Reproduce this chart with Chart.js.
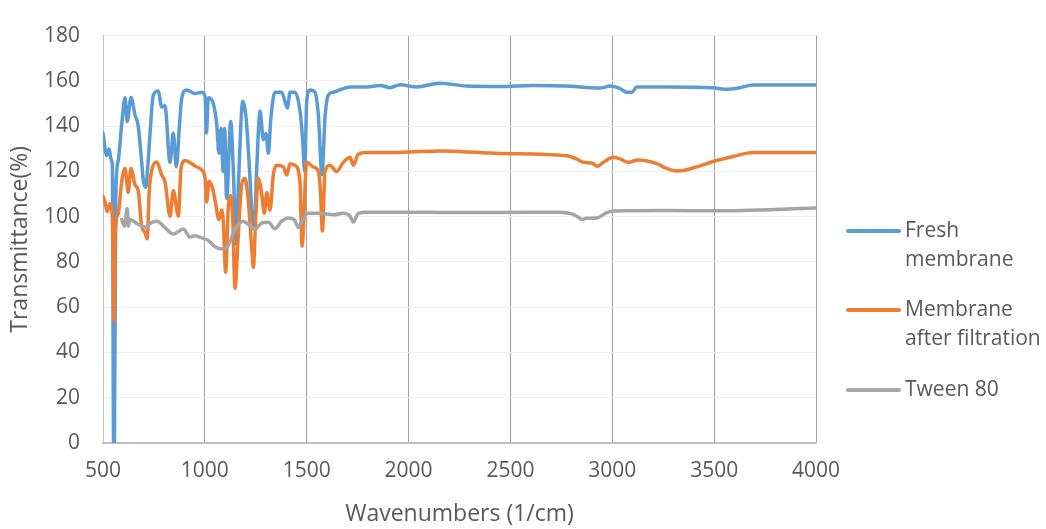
<!DOCTYPE html>
<html>
<head>
<meta charset="utf-8">
<script src="https://cdn.jsdelivr.net/npm/chart.js@4.4.1/dist/chart.umd.min.js"></script>
<style>
  html, body { margin: 0; padding: 0; background: #fff; }
  #wrap { width: 1046px; height: 529px; }
</style>
</head>
<body>
<div id="wrap"><canvas id="ftirChart" width="1046" height="529"></canvas></div>
<script>
// wavenumber ticks
const xTicks = [500, 1000, 1500, 2000, 2500, 3000, 3500, 4000];

// Fresh membrane
const freshWn = [500, 518, 530, 541, 546, 552, 556, 563, 575, 592, 608, 619, 637, 657, 673, 690, 698, 710, 719, 731, 747, 771, 788, 804, 829, 845, 860, 875, 886, 911, 952, 985, 1001, 1008, 1017, 1041, 1058, 1069, 1079, 1090, 1097, 1107, 1127, 1140, 1153, 1165, 1186, 1202, 1218, 1230, 1243, 1254, 1271, 1287, 1300, 1312, 1323, 1344, 1377, 1393, 1405, 1418, 1442, 1467, 1480, 1490, 1500, 1516, 1541, 1557, 1575, 1590, 1606, 1631, 1713, 1795, 1860, 1909, 1958, 2040, 2154, 2285, 2449, 2611, 2775, 2940, 2989, 3038, 3071, 3096, 3120, 3267, 3495, 3553, 3627, 3691, 4000];
const freshT = [137, 127, 130, 125, 122, 0, 0, 110, 125, 141, 152.5, 142, 152.6, 145, 140, 124, 116, 113, 121, 137, 153.7, 155.5, 148.5, 149, 124, 137, 122, 140, 152, 156, 154.4, 155, 153, 137, 152.5, 150, 141, 128, 139, 120, 139, 108, 142, 120, 88, 115, 151, 144, 122.7, 103, 96, 120, 146.7, 134, 136.8, 128, 142.4, 155, 155, 151, 148, 155, 155, 146.7, 134, 120, 151, 156, 155, 145, 118.6, 144, 153.7, 155, 157.3, 157.3, 158, 157, 158.3, 157.3, 159, 157.7, 157.5, 158, 157.7, 156.8, 157.7, 156.6, 155, 155, 157.3, 157.3, 157, 156.3, 157, 158.2, 158.2];

// Membrane after filtration
const filteredWn = [500, 510, 521, 534, 546, 554, 561, 575, 592, 608, 624, 637, 657, 673, 690, 706, 717, 727, 742, 764, 788, 804, 829, 845, 870, 883, 903, 925, 952, 985, 1001, 1009, 1020, 1037, 1053, 1069, 1083, 1091, 1102, 1115, 1127, 1137, 1148, 1164, 1181, 1197, 1213, 1230, 1238, 1250, 1262, 1279, 1292, 1304, 1320, 1336, 1353, 1385, 1402, 1418, 1442, 1467, 1477, 1500, 1532, 1557, 1567, 1577, 1590, 1614, 1647, 1680, 1713, 1729, 1753, 1795, 1893, 2007, 2154, 2449, 2776, 2825, 2858, 2899, 2927, 2956, 3005, 3038, 3079, 3104, 3128, 3218, 3267, 3316, 3349, 3415, 3512, 3594, 3693, 4000];
const filteredT = [109, 106.4, 102.2, 105.7, 100, 54, 95, 101.5, 115.6, 121.3, 110.7, 121.3, 114.2, 111.4, 95.8, 93, 90.2, 111.4, 121.3, 124.1, 118.4, 115.6, 100.2, 111.4, 100.2, 121.3, 124.8, 124, 122.4, 120.6, 117, 106.4, 115.6, 112.8, 105.7, 98.7, 102.9, 97, 75.4, 104.3, 109.3, 98.7, 68.3, 91.6, 114.2, 117, 107.2, 86, 77.5, 100, 117, 110, 101.5, 110.7, 102.9, 118.4, 122.7, 122, 118.4, 123.4, 122.7, 115.6, 87, 124, 122, 120, 112, 93.7, 120, 122.7, 120, 124, 126.2, 122.7, 127.6, 128.3, 128.3, 128.6, 129, 127.9, 126.9, 125.5, 124, 123.7, 122.3, 124, 126.2, 125.5, 124, 124.6, 125, 123.4, 121.3, 120.2, 120.4, 122, 124.8, 126.6, 128.3, 128.3];

// Tween 80
const tweenWn = [592, 605, 619, 624, 632, 673, 714, 725, 764, 804, 845, 894, 927, 952, 985, 1017, 1050, 1091, 1115, 1148, 1189, 1213, 1246, 1279, 1312, 1344, 1377, 1410, 1440, 1459, 1483, 1508, 1565, 1631, 1680, 1713, 1729, 1753, 1795, 2007, 2203, 2449, 2744, 2801, 2834, 2850, 2874, 2923, 2973, 3005, 3267, 3495, 4000];
const tweenT = [98.7, 95.8, 103.6, 95.8, 98.7, 96.6, 95.2, 96.6, 98, 95.2, 92.3, 94.5, 91, 91.6, 90.6, 89.5, 86.7, 85.7, 87.4, 94.5, 98, 96.6, 94.5, 97.2, 97.5, 94.7, 98, 99.4, 98.5, 95.2, 99.4, 101.5, 101.5, 100.8, 101.5, 100.2, 97.6, 101.5, 102, 102, 101.8, 101.8, 102, 101.2, 99.7, 98.7, 99.3, 99.4, 101.8, 102.5, 102.7, 102.6, 103.8];

const seriesNames = ["Fresh membrane", "Membrane after filtration", "Tween 80"];
const legendLines = [["Fresh", "membrane"], ["Membrane", "after filtration"], ["Tween 80"]];
const seriesColors = ["#5B9BD5", "#ED7D31", "#A5A5A5"];

const textColor = "#595959";
const fontFamily = "'Open Sans', 'Liberation Sans', sans-serif";

function toPoints(xs, ys) {
  return xs.map((x, i) => ({ x: x, y: ys[i] }));
}

// legend drawn at the right side, with wrapped labels
const sideLegend = {
  id: "sideLegend",
  afterDraw(chart) {
    const ctx = chart.ctx;
    const rowsY = [231, 310, 390];
    ctx.save();
    ctx.font = "21px " + fontFamily;
    ctx.textBaseline = "middle";
    ctx.textAlign = "left";
    legendLines.forEach((lines, i) => {
      const y = rowsY[i];
      ctx.strokeStyle = seriesColors[i];
      ctx.lineWidth = 4;
      ctx.lineCap = "round";
      ctx.beginPath();
      ctx.moveTo(848, y);
      ctx.lineTo(899, y);
      ctx.stroke();
      ctx.fillStyle = textColor;
      lines.forEach((t, j) => {
        ctx.fillText(t, 905, y + j * 29);
      });
    });
    ctx.restore();
  },
};

const ctx = document.getElementById("ftirChart");
new Chart(ctx, {
  type: "line",
  data: {
    // Tween 80 first so it is drawn on top, like the original
    datasets: [
      { label: seriesNames[2], data: toPoints(tweenWn, tweenT), borderColor: seriesColors[2] },
      { label: seriesNames[1], data: toPoints(filteredWn, filteredT), borderColor: seriesColors[1] },
      { label: seriesNames[0], data: toPoints(freshWn, freshT), borderColor: seriesColors[0] },
    ],
  },
  options: {
    responsive: false,
    animation: false,
    layout: { padding: { left: 0, right: 230, top: 18, bottom: 0 } },
    elements: {
      point: { radius: 0 },
      line: {
        borderWidth: 3.5,
        cubicInterpolationMode: "monotone",
        borderJoinStyle: "round",
        borderCapStyle: "round",
      },
    },
    plugins: {
      legend: { display: false },
      tooltip: { enabled: false },
    },
    scales: {
      x: {
        type: "linear",
        min: 500,
        max: 4000,
        afterFit: (scale) => { scale.height = 86; },
        afterBuildTicks: (scale) => { scale.ticks = xTicks.map((v) => ({ value: v })); },
        ticks: {
          color: textColor,
          font: { family: fontFamily, size: 21 },
          padding: 15,
          maxRotation: 0,
          callback: (v) => String(v),
        },
        grid: {
          drawTicks: false,
          color: (c) => (c.tick && c.tick.value === 500 ? "#bfbfbf" : "#a0a0a0"),
        },
        border: { color: "#bfbfbf", width: 2 },
        title: {
          display: true,
          text: "Wavenumbers (1/cm)",
          color: textColor,
          font: { family: fontFamily, size: 23 },
          padding: { top: 0, bottom: 1 },
        },
      },
      y: {
        min: 0,
        max: 180,
        afterFit: (scale) => { scale.width = 103; },
        ticks: { stepSize: 20, color: textColor, font: { family: fontFamily, size: 21 }, padding: 23 },
        grid: { drawTicks: false, color: "#f0f0f0" },
        border: { color: "#bfbfbf", width: 1 },
        title: {
          display: true,
          text: "Transmittance(%)",
          color: textColor,
          font: { family: fontFamily, size: 23 },
          padding: { top: 7, bottom: 0 },
        },
      },
    },
  },
  plugins: [sideLegend],
});
</script>
</body>
</html>
